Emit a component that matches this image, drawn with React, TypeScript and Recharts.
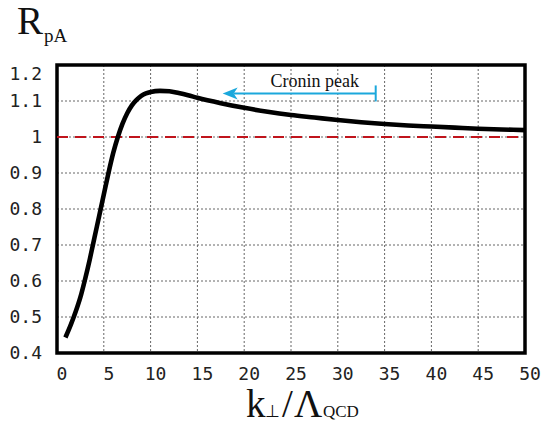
import React from "react";
import {
  LineChart,
  Line,
  XAxis,
  YAxis,
  CartesianGrid,
  ReferenceLine,
  ReferenceArea,
  ReferenceDot,
  Label,
} from "recharts";

const kValues = [
  0.9, 1.5, 2, 2.5, 3, 3.5, 4, 4.5, 5, 5.5, 6, 6.5, 7, 7.5, 8, 8.5, 9, 9.5, 10,
  11, 12, 13, 14, 15, 17.5, 20, 22.5, 25, 27.5, 30, 32.5, 35, 37.5, 40, 42.5,
  45, 47.5, 50,
];
const rpaValues = [
  0.443, 0.48, 0.515, 0.555, 0.605, 0.66, 0.72, 0.78, 0.84, 0.9, 0.955, 1.0,
  1.037, 1.066, 1.088, 1.103, 1.114, 1.121, 1.125, 1.128, 1.127, 1.122, 1.116,
  1.109, 1.094, 1.081, 1.07, 1.061, 1.054, 1.047, 1.041, 1.036, 1.032, 1.029,
  1.026, 1.023, 1.021, 1.019,
];
const xTicks = [0, 5, 10, 15, 20, 25, 30, 35, 40, 45, 50];
const yTicks = [0.4, 0.5, 0.6, 0.7, 0.8, 0.9, 1, 1.1, 1.2];
const referenceLevel = 1;
const arrowStart = 34.05;
const arrowEnd = 17.7;
const arrowLevel = 1.121;
const annotation = "Cronin peak";

const data = kValues.map((k, i) => ({ k, r: rpaValues[i] }));

const MONO = "'DejaVu Sans Mono', monospace";
const SERIF = "'Liberation Serif', 'Times New Roman', serif";
const BLUE = "#1ba8dc";

const XTick = (props: any) => {
  const { x, payload } = props;
  return (
    <text x={x + 5} y={380} textAnchor="middle" fontFamily={MONO} fontSize={18} fill="#222">
      {String(payload.value)}
    </text>
  );
};

const YTick = (props: any) => {
  const { y, payload } = props;
  const shift = payload.value === 1.2 ? 9 : 0;
  return (
    <text x={42} y={y + 6 + shift} textAnchor="end" fontFamily={MONO} fontSize={18} fill="#222">
      {String(payload.value)}
    </text>
  );
};

const ArrowHead = (props: any) => {
  const { cx, cy } = props;
  if (cx == null || cy == null) return null;
  return (
    <path
      d={`M ${cx} ${cy} L ${cx + 15} ${cy - 6} L ${cx + 11} ${cy} L ${cx + 15} ${cy + 6} Z`}
      fill={BLUE}
    />
  );
};

const EndBar = (props: any) => {
  const { cx, cy } = props;
  if (cx == null || cy == null) return null;
  return <line x1={cx} y1={cy - 8} x2={cx} y2={cy + 8} stroke={BLUE} strokeWidth={2} />;
};

export default function App() {
  return (
    <div style={{ position: "absolute", left: 0, top: 0, width: 543, height: 426, background: "#fff" }}>
      <LineChart
        width={543}
        height={426}
        data={data}
        margin={{ top: 65, right: 18, bottom: 0, left: 0 }}
      >
        <CartesianGrid stroke="#666" strokeDasharray="2 2" strokeWidth={1} />
        <XAxis
          dataKey="k"
          type="number"
          domain={[0, 50]}
          ticks={xTicks}
          height={73}
          axisLine={false}
          tickLine={false}
          tick={<XTick />}
          interval={0}
        >
          <Label
            content={() => (
              <text y={417} fontFamily={SERIF} fill="#111">
                <tspan x={246} fontSize={39}>k</tspan>
                <tspan x={265} fontSize={17}>⊥</tspan>
                <tspan x={282} fontSize={39}>/</tspan>
                <tspan x={294} fontSize={39}>Λ</tspan>
                <tspan x={323} fontSize={17}>QCD</tspan>
              </text>
            )}
          />
        </XAxis>
        <YAxis
          type="number"
          domain={[0.4, 1.2]}
          ticks={yTicks}
          width={57}
          axisLine={false}
          tickLine={false}
          tick={<YTick />}
          interval={0}
        >
          <Label
            content={() => (
              <text fontFamily={SERIF} fill="#111">
                <tspan x={17} y={34} fontSize={39}>R</tspan>
                <tspan x={44} y={42} fontSize={19}>pA</tspan>
              </text>
            )}
          />
        </YAxis>
        <ReferenceLine
          y={referenceLevel}
          stroke="#c0141c"
          strokeWidth={2}
          strokeDasharray="11 7"
        />
        <ReferenceLine
          segment={[
            { x: arrowEnd + 1.2, y: arrowLevel },
            { x: arrowStart, y: arrowLevel },
          ]}
          stroke={BLUE}
          strokeWidth={2}
          label={(p: any) => {
            const vb = p.viewBox || {};
            const cx = (vb.x ?? 0) + (vb.width ?? 0) / 2 + 10;
            return (
              <text x={cx} y={(vb.y ?? 0) - 6} textAnchor="middle" fontFamily={SERIF} fontSize={18} fill="#111">
                {annotation}
              </text>
            );
          }}
        />
        <ReferenceDot x={arrowEnd} y={arrowLevel} r={0} shape={<ArrowHead />} />
        <ReferenceDot x={arrowStart} y={arrowLevel} r={0} shape={<EndBar />} />
        <Line
          type="monotone"
          dataKey="r"
          stroke="#000"
          strokeWidth={4.6}
          dot={false}
          isAnimationActive={false}
        />
        <ReferenceArea
          x1={0}
          x2={50}
          y1={0.4}
          y2={1.2}
          fill="none"
          fillOpacity={0}
          stroke="#000"
          strokeWidth={3.5}
          ifOverflow="visible"
        />
      </LineChart>
    </div>
  );
}
